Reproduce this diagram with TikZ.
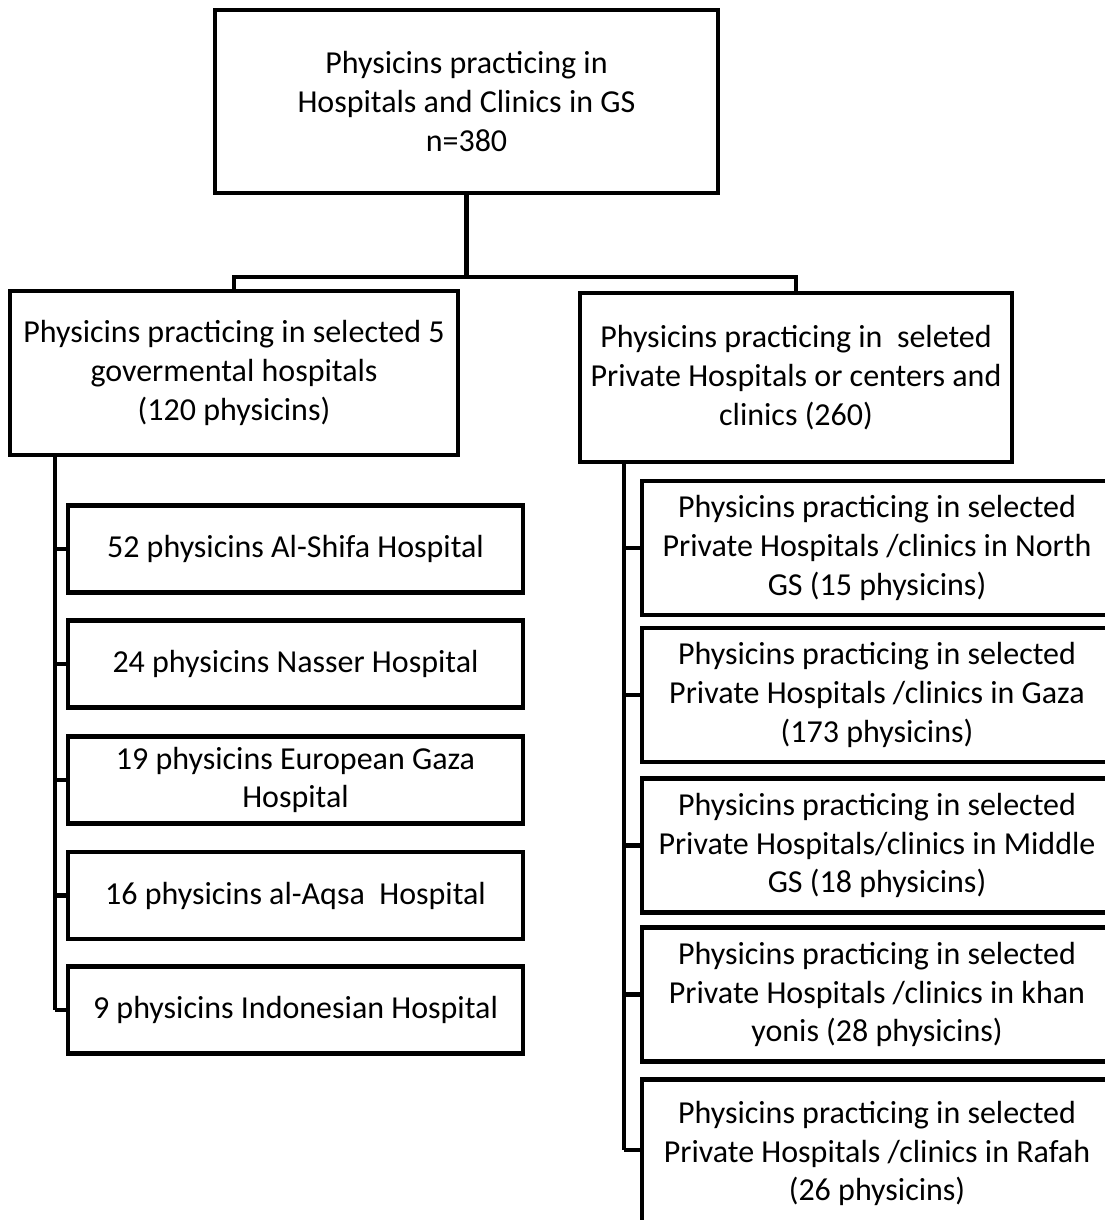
\documentclass[tikz,border=0pt]{standalone}
\usepackage{fontspec}
\setmainfont{Carlito}
\usetikzlibrary{positioning}

\tikzset{
  box/.style={draw, line width=3.7pt, align=center, inner sep=2pt,
    font=\fontsize{24}{29}\selectfont},
  link/.style={line width=3.7pt}
}

\begin{document}
\begin{tikzpicture}[x=0.75pt,y=0.75pt,yscale=-1,xscale=1]
\clip (0,0) rectangle (1105,1220);

% top box
\node [box, minimum width=503*0.75pt, minimum height=183*0.75pt] (top) at (466.5,101.5)
  {Physicins practicing in\\Hospitals and Clinics in GS\\n=380};

% second level
\node [box, minimum width=448*0.75pt, minimum height=164*0.75pt] (gov) at (234,373)
  {Physicins practicing in selected 5\\govermental hospitals\\(120 physicins)};
\node [box, minimum width=432*0.75pt, minimum height=169*0.75pt] (priv) at (796,377.5)
  {Physicins practicing in\ \ seleted\\Private Hospitals or centers and\\clinics (260)};

\coordinate (bar) at (466,277);
\coordinate (spineL) at (55,0);
\coordinate (spineR) at (624,0);

% governmental hospitals
\foreach \y/\txt [count=\i] in {549/52 physicins Al-Shifa Hospital,
    664/24 physicins Nasser Hospital,
    780/{19 physicins European Gaza\\Hospital},
    895.5/16 physicins al-Aqsa\ \ Hospital,
    1010/9 physicins Indonesian Hospital}
  \node [box, minimum width=455*0.75pt, minimum height=87*0.75pt] (g\i) at (295.5,\y) {\txt};

% private hospitals
\foreach \y/\txt [count=\i] in {548/{Physicins practicing in selected\\Private Hospitals /clinics in North\\GS (15 physicins)},
    695/{Physicins practicing in selected\\Private Hospitals /clinics in Gaza\\(173 physicins)},
    845.5/{Physicins practicing in selected\\Private Hospitals/clinics in Middle\\GS (18 physicins)},
    994.5/{Physicins practicing in selected\\Private Hospitals /clinics in khan\\yonis (28 physicins)}}
  \node [box, minimum width=470*0.75pt, minimum height=134*0.75pt] (p\i) at (877,\y) {\txt};
\node [box, minimum width=470*0.75pt, minimum height=148*0.75pt, anchor=north] (p5) at (877,1077)
  {Physicins practicing in selected\\Private Hospitals /clinics in Rafah\\(26 physicins)};

% connectors
\draw [link] (top.south) -- (top.south |- bar);
\draw [link] (gov.north) |- (bar) -| (priv.north);
\draw [link] (gov.south -| spineL) -- (spineL |- g5.west);
\draw [link] (priv.south -| spineR) -- (spineR |- 0,1150);
\foreach \i in {1,...,5}
  \draw [link] (spineL |- g\i.west) -- (g\i.west);
\foreach \i in {1,...,4}
  \draw [link] (spineR |- p\i.west) -- (p\i.west);
\draw [link] (spineR |- 0,1150) -- (p5.west |- 0,1150);

\end{tikzpicture}
\end{document}
